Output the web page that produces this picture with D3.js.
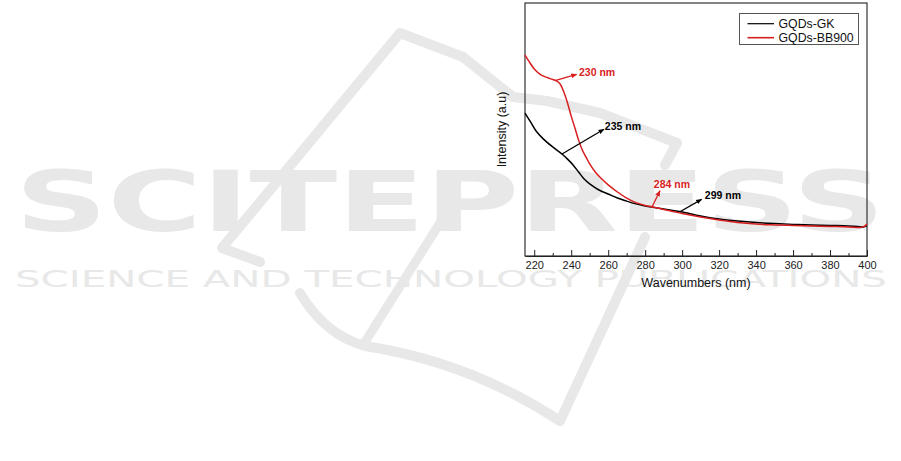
<!DOCTYPE html>
<html>
<head>
<meta charset="utf-8">
<script src="https://cdn.jsdelivr.net/npm/d3@7"></script>
<style>
  html, body { margin: 0; padding: 0; background: #fff; }
  svg { display: block; }
</style>
</head>
<body>
<svg id="chart" width="901" height="461"></svg>
<script>
// ---------- data ----------
const wavelengthsGK = [215,218,221,225,230,235,238,241,244,247,250,255,260,265,270,275,280,285,290,295,300,305,310,320,330,340,350,360,370,380,390,395,398,400];
const intensityGK   = [0.565,0.530,0.494,0.462,0.431,0.403,0.383,0.360,0.332,0.304,0.285,0.261,0.245,0.229,0.217,0.206,0.198,0.192,0.186,0.180,0.174,0.166,0.158,0.146,0.138,0.132,0.128,0.125,0.123,0.121,0.119,0.117,0.115,0.119];

const wavelengthsBB = [215,217,220,223,226,229,232,234,236,238,240,242,244,246,248,250,253,256,260,265,270,275,280,284,290,295,300,310,320,330,340,350,360,370,380,390,396,398,400];
const intensityBB   = [0.794,0.771,0.739,0.719,0.708,0.700,0.692,0.680,0.648,0.605,0.553,0.506,0.458,0.419,0.391,0.364,0.332,0.308,0.281,0.253,0.229,0.211,0.200,0.194,0.184,0.176,0.168,0.154,0.142,0.132,0.126,0.123,0.121,0.119,0.117,0.115,0.113,0.115,0.126];

const seriesNames  = ["GQDs-GK", "GQDs-BB900"];
const seriesColors = ["#000000", "#d81e1e"];

const xTickValues = [220,240,260,280,300,320,340,360,380,400];
const xMinorTicks = [230,250,270,290,310,330,350,370,390];

// annotations: label, arrow start (nm, value), arrow end (nm, value), label anchor (nm, value)
const annLabels  = ["230 nm", "235 nm", "284 nm", "299 nm"];
const annColors  = ["#d81e1e", "#000000", "#d81e1e", "#000000"];
const annFromX   = [231.2, 234.8, 283.5, 298.8];
const annFromY   = [0.693, 0.402, 0.191, 0.175];
const annToX     = [242.9, 257.7, 288.0, 310.5];
const annToY     = [0.718, 0.501, 0.258, 0.224];
const annTextX   = [244.2, 258.2, 284.7, 312.3];
const annTextY   = [0.711, 0.498, 0.269, 0.225];

// ---------- layout ----------
const svg = d3.select("#chart");
const L = 525, R = 867, T = 3, B = 256;

// ---------- watermark ----------
const wm = svg.append("g").attr("class", "watermark");
const wmColor = "#e8e8e8";
wm.append("path")
  .attr("d", "M260,262 L222,248 L400,33 L463,57 L513,97 L547,101 L600,113 L677,143 L665,165")
  .attr("fill", "none").attr("stroke", wmColor).attr("stroke-width", 10)
  .attr("stroke-linejoin", "round").attr("stroke-linecap", "round");
wm.append("path")
  .attr("d", "M300,293 Q325,335 365,346 Q470,362 560,421 L645,237")
  .attr("fill", "none").attr("stroke", wmColor).attr("stroke-width", 10)
  .attr("stroke-linejoin", "round").attr("stroke-linecap", "round");
wm.append("path")
  .attr("d", "M445,215 L365,342")
  .attr("fill", "none").attr("stroke", wmColor).attr("stroke-width", 9)
  .attr("stroke-linecap", "round");
wm.append("text")
  .attr("x", 15).attr("y", 231)
  .attr("font-family", "DejaVu Sans").attr("font-weight", "bold")
  .attr("font-size", 84)
  .attr("textLength", 870).attr("lengthAdjust", "spacingAndGlyphs")
  .attr("fill", wmColor)
  .text("SCITEPRESS");
wm.append("text")
  .attr("x", 15).attr("y", 287)
  .attr("font-family", "DejaVu Sans")
  .attr("font-size", 23)
  .attr("textLength", 872).attr("lengthAdjust", "spacingAndGlyphs")
  .attr("fill", wmColor)
  .text("SCIENCE AND TECHNOLOGY PUBLICATIONS");

// ---------- scales ----------
const x = d3.scaleLinear().domain([215, 400]).range([L, R]);
const y = d3.scaleLinear().domain([0, 1]).range([B, T]);

const g = svg.append("g");

// frame
g.append("rect")
  .attr("x", L).attr("y", T).attr("width", R - L).attr("height", B - T)
  .attr("fill", "none").attr("stroke", "#333").attr("stroke-width", 1.2);

// x axis (ticks inward)
const xAxis = d3.axisBottom(x).tickValues(xTickValues).tickSizeInner(-6).tickSizeOuter(0).tickPadding(5.5).tickFormat(d3.format("d"));
const gx = g.append("g").attr("transform", `translate(0,${B})`).call(xAxis);
gx.select(".domain").attr("stroke", "#222").attr("stroke-width", 1.2);
gx.selectAll(".tick line").attr("stroke", "#222").attr("stroke-width", 1);
gx.selectAll(".tick text").attr("font-family", "Liberation Sans, Arial, sans-serif").attr("font-size", 11).attr("fill", "#222");

const xMinor = d3.axisBottom(x).tickValues(xMinorTicks).tickSizeInner(-3).tickSizeOuter(0).tickFormat("");
const gxm = g.append("g").attr("transform", `translate(0,${B})`).call(xMinor);
gxm.select(".domain").remove();
gxm.selectAll(".tick line").attr("stroke", "#222").attr("stroke-width", 1);

// axis titles
g.append("text")
  .attr("x", (L + R) / 2).attr("y", 287)
  .attr("text-anchor", "middle")
  .attr("font-family", "Liberation Sans, Arial, sans-serif").attr("font-size", 12.5)
  .attr("fill", "#111")
  .text("Wavenumbers (nm)");
g.append("text")
  .attr("transform", `translate(506,${(T + B) / 2}) rotate(-90)`)
  .attr("text-anchor", "middle")
  .attr("font-family", "Liberation Sans, Arial, sans-serif").attr("font-size", 12.5)
  .attr("fill", "#111")
  .text("Intensity (a.u)");

// lines
const line = d3.line().x(d => x(d[0])).y(d => y(d[1])).curve(d3.curveCatmullRom.alpha(0.5));
const seriesData = [
  d3.zip(wavelengthsGK, intensityGK),
  d3.zip(wavelengthsBB, intensityBB)
];
seriesData.forEach((data, i) => {
  g.append("path")
    .datum(data)
    .attr("fill", "none")
    .attr("stroke", seriesColors[i])
    .attr("stroke-width", 1.5)
    .attr("d", line);
});

// arrow markers
const defs = svg.append("defs");
annColors.forEach((c, i) => {
  defs.append("marker")
    .attr("id", "arrow" + i)
    .attr("viewBox", "0 0 10 10")
    .attr("refX", 9).attr("refY", 5)
    .attr("markerWidth", 6).attr("markerHeight", 6)
    .attr("orient", "auto")
    .attr("markerUnits", "userSpaceOnUse")
    .append("path").attr("d", "M0,1 L10,5 L0,9 Z").attr("fill", c);
});

annLabels.forEach((lab, i) => {
  g.append("line")
    .attr("x1", x(annFromX[i])).attr("y1", y(annFromY[i]))
    .attr("x2", x(annToX[i])).attr("y2", y(annToY[i]))
    .attr("stroke", annColors[i]).attr("stroke-width", 1.3)
    .attr("marker-end", `url(#arrow${i})`);
  g.append("text")
    .attr("x", x(annTextX[i])).attr("y", y(annTextY[i]))
    .attr("font-family", "Liberation Sans, Arial, sans-serif")
    .attr("font-weight", "bold").attr("font-size", 10.5)
    .attr("fill", annColors[i])
    .text(lab);
});

// legend
const lg = g.append("g");
lg.append("rect")
  .attr("x", 739.5).attr("y", 13.5).attr("width", 119).attr("height", 31)
  .attr("fill", "#fff").attr("stroke", "#555").attr("stroke-width", 1);
seriesNames.forEach((name, i) => {
  const yy = 23.7 + i * 14;
  lg.append("line")
    .attr("x1", 747.5).attr("x2", 774).attr("y1", yy).attr("y2", yy)
    .attr("stroke", seriesColors[i]).attr("stroke-width", i === 0 ? 1.2 : 1.6);
  lg.append("text")
    .attr("x", 778.5).attr("y", yy + 4.3)
    .attr("font-family", "Liberation Sans, Arial, sans-serif").attr("font-size", 12.3)
    .attr("fill", "#111")
    .text(name);
});
</script>
</body>
</html>
